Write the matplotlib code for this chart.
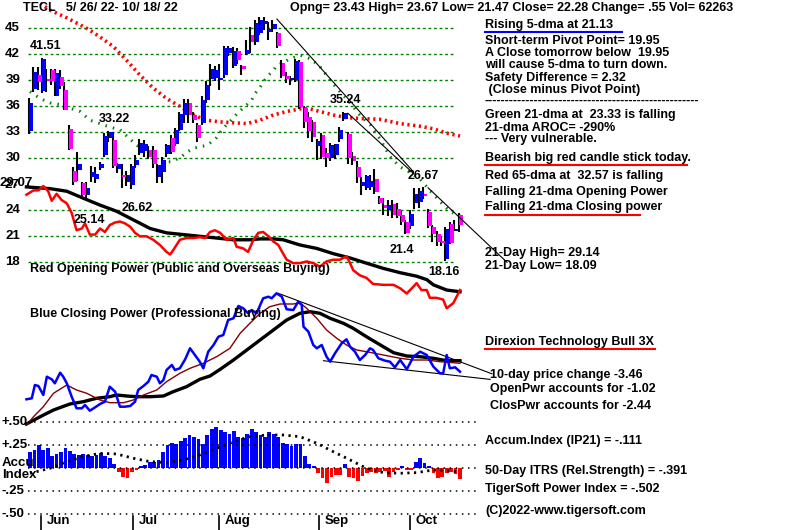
import matplotlib
matplotlib.use("Agg")
from matplotlib import pyplot as plt
from matplotlib.lines import Line2D

plt.rcParams['font.family'] = ['Liberation Sans', 'DejaVu Sans']
plt.rcParams['font.weight'] = 'bold'

# ---- daily candles, 5/26/22 - 10/18/22 (day index 0..97)
opens = [33.1, 38.0, 39.6, 37.8, 39.2, 40.2, 37.2, 39.4, 37.9, 33.4,
         28.5, 28.6, 27.1, 25.8, 27.9, 27.6, 28.9, 30.4, 32.3, 32.1,
         28.8, 28.0, 27.3, 26.9, 29.2, 30.6, 30.8, 31.0, 31.0, 27.9,
         28.4, 30.5, 32.4, 31.6, 33.3, 35.0, 36.4, 35.0, 33.9, 34.1,
         36.7, 39.1, 39.3, 39.0, 39.6, 42.2, 40.7, 42.4, 40.6, 42.0,
         44.2, 43.4, 44.5, 45.5, 44.6, 44.9, 44.5, 41.0, 39.5, 39.0,
         39.0, 41.1, 35.8, 34.8, 34.2, 31.4, 32.7, 30.6, 30.0, 30.4,
         32.2, 34.5, 32.8, 30.3, 29.0, 26.8, 26.6, 26.7, 27.6, 25.4,
         24.6, 24.0, 24.7, 24.2, 23.5, 22.6, 22.2, 24.9, 25.0, 25.9,
         23.8, 22.1, 21.3, 20.5, 18.4, 22.4, 21.6, 23.43]
closes = [36.4, 40.0, 38.8, 41.5, 38.9, 38.9, 39.9, 38.4, 35.6, 31.1,
          27.3, 29.4, 25.8, 26.6, 28.4, 28.2, 29.4, 32.6, 33.0, 29.1,
          29.3, 27.8, 28.1, 29.1, 29.8, 31.8, 31.7, 30.2, 29.4, 29.2,
          29.8, 31.5, 30.7, 33.3, 35.1, 36.4, 35.0, 34.4, 32.3, 36.7,
          38.5, 40.3, 40.2, 39.2, 42.7, 42.7, 42.4, 41.3, 40.3, 42.5,
          43.4, 45.6, 46.0, 45.8, 44.9, 45.5, 43.0, 39.5, 39.2, 39.2,
          41.2, 35.9, 34.2, 33.1, 32.5, 32.0, 30.1, 30.0, 31.5, 31.6,
          33.3, 35.2, 30.0, 29.7, 27.9, 27.3, 28.0, 27.4, 26.1, 24.9,
          24.3, 24.6, 23.5, 23.3, 22.6, 21.4, 23.6, 25.9, 26.2, 25.6,
          22.2, 21.3, 20.3, 20.2, 21.8, 20.2, 21.9, 22.28]
highs = [37.0, 40.5, 40.5, 41.6, 40.3, 40.3, 40.3, 40.2, 38.8, 33.8,
         29.0, 30.7, 27.3, 27.3, 29.1, 29.0, 29.6, 32.9, 33.2, 33.0,
         29.5, 29.4, 28.5, 29.3, 30.4, 32.2, 32.1, 31.4, 31.4, 29.4,
         30.2, 31.7, 32.7, 33.5, 35.4, 36.9, 36.9, 35.3, 34.1, 37.2,
         38.9, 40.9, 40.7, 40.9, 43.0, 43.0, 42.9, 42.7, 40.8, 43.6,
         45.2, 46.0, 46.3, 46.3, 45.7, 46.0, 44.6, 41.3, 40.0, 39.5,
         41.5, 41.4, 36.0, 35.3, 34.4, 32.2, 32.9, 31.2, 31.8, 31.7,
         33.6, 35.4, 33.0, 30.7, 29.7, 27.9, 28.1, 28.1, 28.8, 25.6,
         25.4, 25.2, 25.2, 24.9, 23.9, 22.9, 24.0, 26.6, 26.6, 26.7,
         24.2, 22.3, 21.6, 20.9, 22.1, 22.6, 22.9, 23.67]
lows = [32.8, 37.6, 37.9, 37.5, 37.7, 38.5, 37.2, 38.0, 35.6, 31.0,
        26.9, 27.4, 25.3, 25.3, 27.3, 27.1, 28.6, 30.1, 31.9, 28.9,
        28.3, 26.6, 26.8, 26.5, 28.9, 30.4, 30.2, 29.9, 28.9, 27.2,
        27.2, 30.2, 30.5, 31.4, 33.1, 34.1, 34.1, 34.1, 31.9, 33.8,
        36.4, 38.3, 38.9, 37.9, 39.3, 41.8, 40.4, 40.9, 39.6, 41.9,
        42.2, 43.1, 44.2, 44.8, 43.7, 44.6, 42.7, 39.3, 38.7, 38.5,
        38.8, 35.7, 33.5, 32.3, 31.9, 29.8, 29.9, 29.0, 29.7, 29.9,
        31.9, 34.3, 29.3, 29.2, 27.2, 25.8, 26.3, 26.4, 25.9, 24.7,
        23.5, 23.4, 23.1, 23.1, 22.3, 21.3, 21.9, 24.2, 24.3, 25.3,
        22.0, 20.3, 19.9, 19.9, 18.2, 20.1, 21.6, 21.47]

# ---- moving averages of price (day index, value)
ma21_day = [0, 2.3, 4.5, 6.8, 9.0, 11.3, 13.5, 15.8, 18.0, 20.3, 22.6, 24.8,
            26.3, 28.4, 32.0, 34.2, 35.3, 37.2, 39.9, 41.0, 42.1, 43.6, 44.7,
            45.9, 47.0, 48.1, 50.0, 50.8, 51.9, 52.6, 53.8, 54.9, 55.6, 57.1,
            58.3, 60.9, 63.2, 65.4, 67.7, 69.9, 72.2, 74.4, 76.7, 79.0, 81.2,
            83.5, 85.7, 88.0, 90.2, 92.5, 94.7, 97.0]
ma21_val = [37.7, 36.9, 36.4, 36.2, 35.8, 35.4, 34.4, 34.0, 33.6, 33.3, 32.2,
            31.2, 30.3, 29.6, 29.6, 30.2, 30.7, 31.2, 31.5, 31.9, 32.4, 33.5,
            34.0, 34.7, 35.3, 35.8, 36.7, 37.5, 38.2, 38.8, 39.6, 40.1, 40.7,
            41.0, 41.4, 41.9, 41.5, 40.6, 39.0, 37.7, 36.4, 35.0, 33.9, 32.2,
            30.2, 29.0, 28.4, 27.6, 26.3, 25.0, 23.9, 23.33]
ma65_day = [2.3, 4.5, 8.3, 12.8, 15.8, 18.8, 21.8, 24.8, 27.8, 30.8, 33.8,
            36.8, 39.8, 42.9, 45.9, 48.9, 51.9, 54.9, 57.9, 60.9, 63.2, 65.4,
            68.4, 71.4, 74.4, 78.9, 83.5, 88.0, 91.0, 94.0, 97.0]
ma65_val = [47.9, 47.1, 46.2, 45.0, 44.0, 42.9, 41.3, 39.6, 38.1, 36.9, 36.0,
            35.0, 34.4, 34.2, 34.1, 34.0, 34.4, 35.0, 35.4, 35.7, 35.7, 35.4,
            35.0, 34.7, 34.6, 34.5, 34.0, 33.7, 33.4, 32.9, 32.57]

# ---- opening power (plotted on the price scale)
op_day = [-0.8, 0.8, 1.9, 3.0, 4.1, 4.9, 6.0, 7.1, 8.3, 9.4, 10.5, 11.7, 12.4,
          13.5, 14.7, 15.8, 16.9, 18.0, 19.2, 20.3, 21.4, 22.6, 23.7, 24.8,
          26.3, 27.8, 29.3, 30.8, 31.6, 32.3, 33.8, 35.3, 36.8, 38.3, 39.5,
          40.6, 41.7, 42.9, 44.4, 45.9, 46.6, 48.1, 49.2, 50.4, 51.5, 52.6,
          53.8, 54.9, 56.0, 57.1, 57.9, 59.4, 60.9, 62.4, 63.9, 65.4, 66.9,
          68.4, 69.9, 71.4, 72.2, 72.9, 74.4, 75.9, 77.4, 79.7, 82.0, 83.5,
          85.0, 86.5, 87.2, 88.3, 89.5, 90.2, 91.7, 93.2, 94.0, 95.5, 97.0]
op_val = [25.8, 26.3, 26.3, 26.8, 26.2, 25.1, 25.9, 25.2, 24.8, 23.7, 21.7,
          21.9, 22.5, 21.2, 21.2, 21.9, 21.5, 22.3, 22.6, 22.7, 22.5, 22.1,
          21.4, 21.0, 21.0, 20.6, 20.0, 19.2, 18.9, 19.4, 20.6, 20.8, 20.8,
          20.9, 20.8, 21.5, 21.7, 21.4, 20.6, 20.8, 19.8, 19.6, 19.2, 20.6,
          21.4, 21.5, 21.0, 20.4, 20.0, 19.0, 18.3, 17.9, 17.9, 18.1, 17.9,
          17.5, 18.1, 18.3, 18.3, 18.7, 17.9, 17.1, 16.5, 16.2, 15.5, 15.4,
          15.4, 15.0, 14.4, 15.2, 15.6, 14.8, 14.8, 13.9, 13.9, 13.7, 12.7,
          13.3, 14.8]
op_ma_day = [-0.8, 4.5, 8.3, 12.0, 15.8, 19.5, 23.3, 27.1, 30.8, 34.6, 38.3,
             42.1, 45.9, 49.6, 51.9, 54.9, 57.1, 60.9, 64.7, 68.4, 72.2, 75.9,
             79.7, 83.5, 87.2, 89.5, 91.0, 94.0, 97.0]
op_ma_val = [26.7, 26.5, 26.2, 25.4, 24.6, 23.9, 22.9, 21.9, 21.4, 21.2, 21.0,
             20.8, 20.6, 20.6, 20.7, 20.7, 20.6, 20.0, 19.6, 19.0, 18.5, 17.9,
             17.3, 16.8, 16.4, 16.0, 15.4, 14.8, 14.6]

# ---- closing power (arbitrary units)
cp_day = [-0.8, 0.4, 1.1, 1.9, 3.0, 3.8, 4.9, 5.6, 6.8, 7.5, 8.3, 9.4, 10.5,
          11.7, 12.4, 13.5, 14.7, 15.8, 16.9, 18.0, 19.2, 20.3, 21.4, 22.6,
          23.7, 24.4, 25.6, 26.7, 27.4, 28.6, 29.3, 30.1, 30.8, 32.0, 32.7,
          33.8, 35.0, 36.1, 37.2, 38.3, 39.1, 40.2, 41.4, 42.5, 43.6, 44.7,
          45.9, 47.0, 48.1, 49.2, 50.0, 51.1, 52.6, 53.8, 54.5, 55.6, 56.8,
          57.9, 59.4, 60.5, 61.3, 61.7, 62.8, 63.9, 64.7, 65.8, 66.9, 67.7,
          68.8, 70.3, 71.4, 72.2, 73.3, 74.4, 75.6, 76.7, 77.4, 78.6, 80.1,
          81.2, 82.3, 83.5, 85.0, 86.5, 88.0, 89.5, 91.0, 92.5, 93.2, 94.0,
          94.7, 95.9, 97.0]
cp_val = [0.7, 1.7, 15.0, 14.0, 5.0, 23.3, 20.7, 16.7, 27.3, 23.3, 16.7, 3.3,
          -8.3, -8.3, -5.0, -10.7, -7.3, -4.0, -1.7, 13.3, 8.3, -6.7, -6.7,
          -6.0, -1.7, 10.0, 14.0, 18.3, 25.0, 23.3, 16.7, 20.0, 30.0, 35.0,
          30.0, 31.7, 40.7, 51.7, 45.0, 38.3, 31.7, 48.3, 55.0, 63.3, 65.0,
          80.0, 81.7, 94.0, 91.7, 86.7, 90.0, 86.7, 101.7, 103.3, 101.7,
          106.7, 103.3, 90.7, 90.0, 98.3, 95.0, 73.3, 68.3, 55.0, 51.7, 55.0,
          43.3, 38.3, 46.7, 56.7, 60.7, 53.3, 48.3, 40.0, 45.0, 51.7, 50.0,
          41.7, 39.3, 38.3, 32.7, 40.0, 30.7, 43.3, 48.3, 45.0, 33.3, 26.7,
          26.7, 45.0, 31.7, 32.7, 28.3]
cp_ma21_day = [-0.8, 0.8, 3.0, 5.3, 8.3, 10.5, 12.8, 15.8, 18.0, 21.1, 23.3,
               25.6, 28.6, 30.8, 33.8, 36.1, 39.1, 42.1, 45.1, 47.4, 49.6,
               51.9, 54.1, 56.4, 59.4, 60.9, 62.4, 64.7, 66.9, 69.2, 71.4,
               73.7, 75.9, 79.7, 83.5, 86.5, 89.5, 92.5, 95.5, 97.0]
cp_ma21_val = [-25.0, -16.7, -6.7, 6.7, 15.0, 10.0, 6.7, 0.0, -2.7, -2.7, 0.0,
               5.0, 10.0, 18.3, 26.7, 31.7, 36.7, 43.3, 51.7, 66.7, 76.7,
               86.7, 93.3, 96.0, 96.0, 97.3, 91.7, 81.7, 70.0, 61.7, 55.0,
               50.0, 48.3, 45.0, 41.7, 40.0, 40.0, 38.3, 37.3, 36.7]
cp_ma65_day = [-0.8, 2.3, 5.3, 9.0, 12.0, 15.0, 18.0, 19.5, 21.8, 24.1, 27.1,
               30.1, 32.3, 35.3, 38.3, 40.6, 42.9, 45.9, 48.9, 51.9, 54.9,
               57.9, 60.9, 63.2, 65.4, 67.7, 70.7, 72.9, 75.9, 79.7, 82.0,
               85.0, 88.0, 91.0, 94.0, 97.0]
cp_ma65_val = [-24.0, -16.7, -10.0, -4.0, -1.7, 1.7, 3.3, 5.0, 4.0, 3.3, 3.3,
               4.0, 8.3, 13.3, 20.7, 24.0, 30.7, 40.0, 50.0, 60.0, 70.0, 80.0,
               86.7, 88.3, 86.7, 81.7, 76.7, 71.7, 63.3, 53.3, 47.3, 44.0,
               43.3, 41.7, 39.3, 39.3]

# ---- accumulation index (IP21) bars and its average
accum = [0.18, 0.20, 0.25, 0.20, 0.22, 0.13, 0.16, 0.18, 0.22, 0.19,
         0.16, 0.14, 0.16, 0.14, 0.13, 0.14, 0.17, 0.13, 0.11, 0.05,
         -0.04, -0.09, -0.10, -0.04, -0.02, 0.02, 0.04, 0.07, 0.07, 0.09,
         0.18, 0.25, 0.28, 0.26, 0.30, 0.33, 0.36, 0.34, 0.32, 0.26,
         0.36, 0.43, 0.45, 0.42, 0.40, 0.37, 0.41, 0.34, 0.33, 0.37,
         0.43, 0.40, 0.36, 0.34, 0.40, 0.37, 0.34, 0.28, 0.26, 0.24,
         0.26, 0.26, 0.13, 0.05, 0.03, -0.05, -0.11, -0.16, -0.09, -0.07,
         -0.07, 0.05, -0.09, -0.11, -0.14, -0.08, -0.05, -0.04, -0.05, -0.04,
         -0.03, -0.09, -0.04, -0.02, 0.02, -0.02, -0.02, 0.07, 0.11, 0.06,
         0.02, -0.05, -0.11, -0.09, -0.05, -0.04, -0.06, -0.12]
acc_ma_day = [0.0, 4.5, 8.3, 12.0, 15.8, 19.5, 23.3, 27.1, 30.8, 34.6, 38.3,
              42.1, 45.9, 49.6, 53.4, 57.1, 60.9, 64.7, 68.4, 72.2, 75.9,
              79.7, 83.5, 87.2, 91.0, 97.0]
acc_ma_val = [-0.054, 0.0, 0.072, 0.127, 0.163, 0.156, 0.109, 0.072, 0.062,
              0.091, 0.145, 0.217, 0.290, 0.344, 0.362, 0.362, 0.344, 0.272,
              0.181, 0.091, 0.0, -0.047, -0.054, -0.047, -0.018, -0.036]

price_ticks = [45, 42, 39, 36, 33, 30, 24, 21, 18]
acc_ticks = [0.5, 0.25, 0.0, -0.25, -0.5]
acc_tick_labels = ['+.50', '+.25', '', '-.25', '-.50']
month_pos = [2.5, 23.2, 42.6, 65.2, 85.7]
month_names = ['Jun', 'Jul', 'Aug', 'Sep', 'Oct']

W, H = 800, 530
X0, DX = 30.0, 4.433
XL = (-X0 / DX, (W - X0) / DX)
FS = 9.0

fig = plt.figure(figsize=(8, 5.3), dpi=100)
fig.patch.set_facecolor('white')


def overlay(ylim):
    ax = fig.add_axes([0, 0, 1, 1])
    ax.set_xlim(XL)
    ax.set_ylim(ylim)
    ax.set_axis_off()
    ax.patch.set_alpha(0)
    return ax


def px(x, y):
    return x / W, 1 - y / H


# price scale: 45 at y=28.3, 8.667 px per dollar
ax_p = overlay((45 - (H - 28.3) / 8.667, 45 + 28.3 / 8.667))
ax_c = overlay((400 - H, 400))
ax_a = overlay(((468.3 - H) / 92.0, 468.3 / 92.0))

# ---------- price panel
for v in price_ticks:
    ax_p.plot([-0.5, 95.4], [v, v], color='#008000', lw=1, ls=(0, (2, 2)))
    ax_p.text(-5.6, v, str(v), fontsize=FS + 0.5, va='center', ha='left')
ax_p.text(-6.9, 27.1, '29.07', fontsize=FS + 0.5, va='center', ha='left')
ax_p.text(-5.8, 26.9, '27', fontsize=FS + 0.5, va='center', ha='left')

ax_p.plot(ma65_day, ma65_val, color='#ff0000', lw=2.6, ls=(0, (0.6, 1.0)))
ax_p.plot(ma21_day, ma21_val, color='#008000', lw=2.2, ls=(0, (0.5, 2.0)))

days = list(range(len(closes)))
for i in days:
    ax_p.plot([i - 0.3, i - 0.3], [lows[i], highs[i]], color='black', lw=1.5,
              solid_capstyle='butt', zorder=2)
body_col = ['#0000ff' if c >= o else '#ff00ff' for o, c in zip(opens, closes)]
body_h = [max(abs(c - o), 0.3) for o, c in zip(opens, closes)]
body_b = [min(o, c) for o, c in zip(opens, closes)]
ax_p.bar([d + 0.2 for d in days], body_h, bottom=body_b, width=0.85,
         color=body_col, linewidth=0, zorder=3)

ax_p.plot(op_ma_day, op_ma_val, color='black', lw=2.4, zorder=4)
ax_p.plot(op_day, op_val, color='#ff0000', lw=1.8, zorder=4)

# trendlines on price
ax_p.plot([55.7, 86.4], [46.07, 28.5], color='black', lw=0.8, zorder=4)
ax_p.plot([71.7, 86.4], [35.2, 28.3], color='black', lw=0.8, zorder=4)
ax_p.plot([89.8, 107.6], [26.6, 18.0], color='black', lw=0.8, zorder=4)

# ---------- closing power panel
ax_c.plot([56.0, 104.2], [106.7, 26.2], color='black', lw=0.8)
ax_c.plot([66.2, 103.8], [39.3, 20.6], color='black', lw=0.8)
ax_c.plot(cp_ma65_day, cp_ma65_val, color='black', lw=2.4)
ax_c.plot(cp_ma21_day, cp_ma21_val, color='#800000', lw=1.0)
ax_c.plot(cp_day, cp_val, color='#0000ff', lw=1.8)

# ---------- accumulation panel
for v, lab in zip(acc_ticks, acc_tick_labels):
    ax_a.plot([-0.5, 100.5], [v, v], color='black', lw=1.1, ls=(0, (1, 3)))
    ax_a.text(-6.4, v, lab, fontsize=FS + 0.5, va='center', ha='left')
ax_a.text(-6.4, 0.055, 'Accu', fontsize=FS + 0.5, va='center', ha='left')
ax_a.text(-6.4, -0.07, 'Index', fontsize=FS + 0.5, va='center', ha='left')
acc_col = ['#0000ff' if a >= 0 else '#ff0000' for a in accum]
ax_a.bar(days, accum, width=0.85, color=acc_col, linewidth=0)
ax_a.plot(acc_ma_day, acc_ma_val, color='black', lw=2.0, ls=(0, (0.8, 1.6)))

for m, name in zip(month_pos, month_names):
    ax_a.plot([m, m], [-0.515, -0.68], color='black', lw=1.2)
    ax_a.text(m + 1.3, -0.575, name, fontsize=FS + 0.5, va='center', ha='left')


# ---------- text
def t(x, y, s, **kw):
    fig.text(*px(x, y), s, fontsize=FS, va='center', ha='left', **kw)


def uline(x0, x1, y, color):
    fig.add_artist(Line2D([x0 / W, x1 / W], [1 - y / H, 1 - y / H],
                          color=color, lw=1.5))


t(23, 8, 'TECL   5/ 26/ 22- 10/ 18/ 22')
t(290, 8, 'Opng= 23.43 High= 23.67 Low= 21.47 Close= 22.28 Change= .55 Vol= 62263')

t(30, 46, '41.51')
t(99, 119, '33.22')
t(330, 100, '35.24')
t(408, 176, '26.67')
t(122, 208, '26.62')
t(74, 220, '25.14')
t(390, 250, '21.4')
t(428, 272, '18.16')
t(30, 269, 'Red Opening Power (Public and Overseas Buying)')
t(30, 314, 'Blue Closing Power (Professional Buying)')

right = [
    (25, 'Rising 5-dma at 21.13'),
    (41, 'Short-term Pivot Point= 19.95'),
    (53, 'A Close tomorrow below  19.95'),
    (65, 'will cause 5-dma to turn down.'),
    (78, 'Safety Difference = 2.32'),
    (90, ' (Close minus Pivot Point)'),
    (101, '-' * 52),
    (115, 'Green 21-dma at  23.33 is falling'),
    (128, '21-dma AROC= -290%'),
    (139, '--- Very vulnerable.'),
    (158, 'Bearish big red candle stick today.'),
    (176, 'Red 65-dma at  32.57 is falling'),
    (192, 'Falling 21-dma Opening Power'),
    (207, 'Falling 21-dma Closing power'),
    (253, '21-Day High= 29.14'),
    (266, '21-Day Low= 18.09'),
    (342, 'Direxion Technology Bull 3X'),
    (441, 'Accum.Index (IP21) = -.111'),
    (471, '50-Day ITRS (Rel.Strength) = -.391'),
    (489, 'TigerSoft Power Index = -.502'),
    (511, '(C)2022-www.tigersoft.com'),
]
for y, s in right:
    t(485, y, s)
t(490, 375, '10-day price change -3.46')
t(490, 389, 'OpenPwr accounts for -1.02')
t(490, 406, 'ClosPwr accounts for -2.44')

uline(485, 622, 32, '#0000ff')
uline(485, 687, 165, '#ff0000')
uline(485, 640, 215, '#ff0000')
uline(485, 655, 349, '#ff0000')

fig.savefig('out.png', dpi=100)
